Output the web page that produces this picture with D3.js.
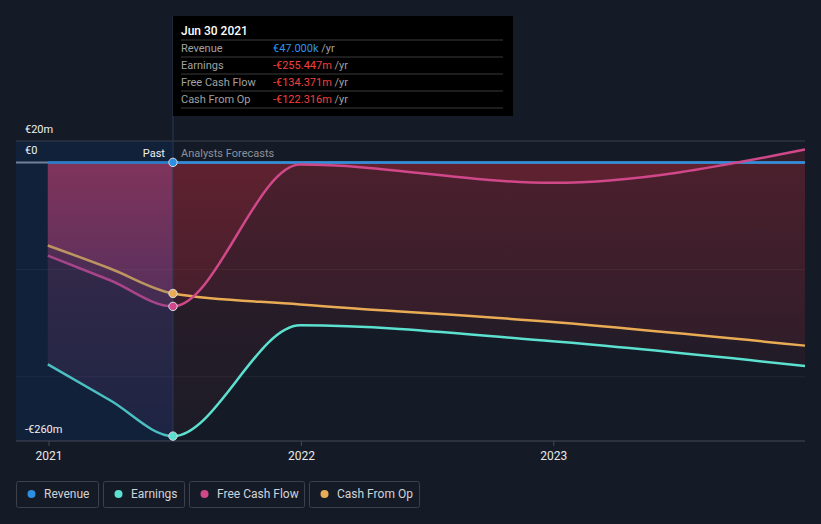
<!DOCTYPE html>
<html><head><meta charset="utf-8">
<script src="https://cdn.jsdelivr.net/npm/d3@7"></script>
<style>
html,body{margin:0;padding:0;background:#151b26;}
svg{display:block;font-family:Roboto,"Noto Sans",sans-serif;}
</style></head>
<body><svg id="c" width="821" height="524"></svg>
<script>
// ---- data (values in € millions) ----
const dates = ["2020-12-31","2021-03-31","2021-06-30","2021-12-31","2022-12-31","2023-12-31"];
const revenue = [0.047, 0.047, 0.047, 0.0, 0.0, 0.0];
const earnings = [-188.5, -222, -255.447, -152, -167, -190];
const freeCashFlow = [-87, -110, -134.371, -2, -19, 12];
const cashFromOp = [-77.5, -99, -122.316, -132.5, -149, -171];
const yTicks = [20, 0, -260];
const yTickLabels = ["€20m", "€0", "-€260m"];
const xTicks = ["2021-01-01","2022-01-01","2023-01-01"];
const pastDate = "2021-06-30";
const tooltipTitle = "Jun 30 2021";
const tooltipRows = [
  {label:"Revenue", value:"€47.000k", kind:"pos"},
  {label:"Earnings", value:"-€255.447m", kind:"neg"},
  {label:"Free Cash Flow", value:"-€134.371m", kind:"neg"},
  {label:"Cash From Op", value:"-€122.316m", kind:"neg"}
];
const legendNames = ["Revenue","Earnings","Free Cash Flow","Cash From Op"];

const colors = {Revenue:"#2e8fe0", Earnings:"#5ce1d0", "Free Cash Flow":"#d0488a", "Cash From Op":"#e9ac55"};

const parse = d3.timeParse("%Y-%m-%d");
const svg = d3.select("#c");
const L = 16, R = 805, T = 141, B = 441;
const x = d3.scaleTime().domain([parse("2020-11-15"), parse("2023-12-31")]).range([L, R]);
const y = d3.scaleLinear().domain([-260, 20]).range([B, T]);
const px = x(parse(pastDate));

const series = [
  {name:"Revenue", vals:revenue},
  {name:"Earnings", vals:earnings},
  {name:"Free Cash Flow", vals:freeCashFlow},
  {name:"Cash From Op", vals:cashFromOp}
].map(s => ({name:s.name, pts: dates.map((d,i)=>({d:parse(d), v:s.vals[i]}))}));

const defs = svg.append("defs");
const gF = defs.append("linearGradient").attr("id","gF").attr("gradientUnits","userSpaceOnUse")
  .attr("x1",0).attr("x2",0).attr("y1",y(0)).attr("y2",B);
gF.append("stop").attr("offset","0").attr("stop-color","#b4283a").attr("stop-opacity",0.19);
gF.append("stop").attr("offset","1").attr("stop-color","#b4283a").attr("stop-opacity",0.04);
const gP = defs.append("linearGradient").attr("id","gP").attr("gradientUnits","userSpaceOnUse")
  .attr("x1",0).attr("x2",0).attr("y1",y(0)).attr("y2",B);
gP.append("stop").attr("offset","0").attr("stop-color","#f04068").attr("stop-opacity",0.28);
gP.append("stop").attr("offset","1").attr("stop-color","#b04898").attr("stop-opacity",0.09);
defs.append("clipPath").attr("id","cPast").append("rect").attr("x",L).attr("y",0).attr("width",px-L).attr("height",524);
defs.append("clipPath").attr("id","cFut").append("rect").attr("x",px).attr("y",0).attr("width",R-px).attr("height",524);

// gridlines
svg.append("line").attr("x1",L).attr("x2",R).attr("y1",y(20)).attr("y2",y(20)).attr("stroke","#3b404b").attr("stroke-width",1);
[-100,-200].forEach(v=>svg.append("line").attr("x1",L).attr("x2",R).attr("y1",y(v)).attr("y2",y(v)).attr("stroke","#ffffff").attr("stroke-opacity",0.06));

// areas
const area = d3.area().x(d=>x(d.d)).y0(y(0)).y1(d=>y(d.v)).curve(d3.curveMonotoneX);
series.slice(1).forEach(s=>{
  svg.append("path").attr("d",area(s.pts)).attr("fill","url(#gF)").attr("clip-path","url(#cFut)");
  svg.append("path").attr("d",area(s.pts)).attr("fill","url(#gP)").attr("clip-path","url(#cPast)");
});

// zero line
svg.append("line").attr("x1",L).attr("x2",R).attr("y1",y(0)).attr("y2",y(0)).attr("stroke","#8b919b").attr("stroke-width",2);

// lines
const line = d3.line().x(d=>x(d.d)).y(d=>y(d.v)).curve(d3.curveMonotoneX);
[series[0], series[3], series[2], series[1]].forEach(s=>{
  svg.append("path").attr("d",line(s.pts)).attr("fill","none").attr("stroke",colors[s.name]).attr("stroke-width",2.5);
});

// past overlay
svg.append("rect").attr("x",L).attr("y",T).attr("width",px-L).attr("height",B-T).attr("fill","#0a3c8c").attr("opacity",0.2);

// bottom axis
svg.append("line").attr("x1",L).attr("x2",R).attr("y1",B).attr("y2",B).attr("stroke","#454a55").attr("stroke-width",1);
const xa = svg.append("g").attr("transform",`translate(0,${B})`).call(
  d3.axisBottom(x).tickValues(xTicks.map(parse)).tickFormat(d3.timeFormat("%Y")).tickSize(5).tickPadding(5));
xa.select(".domain").remove();
xa.selectAll(".tick line").attr("stroke","#454a55");
xa.selectAll(".tick text").attr("fill","#e8e8e8").attr("font-size","12px").attr("font-family","Roboto,sans-serif");

// y labels
yTicks.forEach((v,i)=>{
  svg.append("text").attr("x",25).attr("y",y(v) - 12).attr("dy","0.35em")
    .attr("fill","#f0f0f0").attr("font-size","11px").text(yTickLabels[i]);
});

// divider
svg.append("line").attr("x1",px).attr("x2",px).attr("y1",16).attr("y2",B).attr("stroke","#2b3a55").attr("stroke-width",1);
svg.append("text").attr("x",px-8).attr("y",153).attr("dy","0.35em").attr("text-anchor","end").attr("fill","#f0f0f0").attr("font-size","11px").text("Past");
svg.append("text").attr("x",px+8).attr("y",153).attr("dy","0.35em").attr("fill","#8c919a").attr("font-size","11px").text("Analysts Forecasts");

// dots
series.forEach(s=>{
  const p = s.pts.find(q=>+q.d===+parse(pastDate));
  svg.append("circle").attr("cx",x(p.d)).attr("cy",y(p.v)).attr("r",4.2).attr("fill",colors[s.name]).attr("stroke","#d8dce4").attr("stroke-width",1);
});

// tooltip
const tt = svg.append("g");
tt.append("rect").attr("x",px).attr("y",16).attr("width",340).attr("height",100).attr("fill","#000");
tt.append("text").attr("x",px+8).attr("y",31).attr("dy","0.35em").attr("fill","#fff").attr("font-size","12px").attr("font-weight",500).text(tooltipTitle);
tooltipRows.forEach((r,i)=>{
  const ry = 40 + i*17;
  tt.append("line").attr("x1",px+8).attr("x2",px+330).attr("y1",ry).attr("y2",ry).attr("stroke","#3a3a3a");
  tt.append("text").attr("x",px+8).attr("y",ry+8.5).attr("dy","0.35em").attr("fill","#a0a0a0").attr("font-size","11px").text(r.label);
  const t = tt.append("text").attr("x",px+100).attr("y",ry+8.5).attr("dy","0.35em").attr("font-size","11px");
  t.append("tspan").attr("fill", r.kind==="pos"?"#2e95e8":"#f0413f").text(r.value);
  t.append("tspan").attr("fill","#a0a0a0").text(" /yr");
});
tt.append("line").attr("x1",px+8).attr("x2",px+330).attr("y1",108).attr("y2",108).attr("stroke","#3a3a3a");

// legend
const legendBoxW = [82, 81, 115, 110];
const lg = svg.append("g");
let lx = 16;
legendNames.forEach((n,i)=>{
  const g = lg.append("g");
  const bw = legendBoxW[i];
  g.append("rect").attr("x",lx+0.5).attr("y",481.5).attr("width",bw).attr("height",26).attr("rx",2).attr("fill","none").attr("stroke","#3c414c");
  g.append("circle").attr("cx",lx+15.5).attr("cy",494).attr("r",4).attr("fill",colors[n]);
  g.append("text").attr("x",lx+28).attr("y",494).attr("dy","0.35em").attr("fill","#d0d3d8").attr("font-size","12px").text(n);
  lx += bw + 5;
});
</script></body></html>
